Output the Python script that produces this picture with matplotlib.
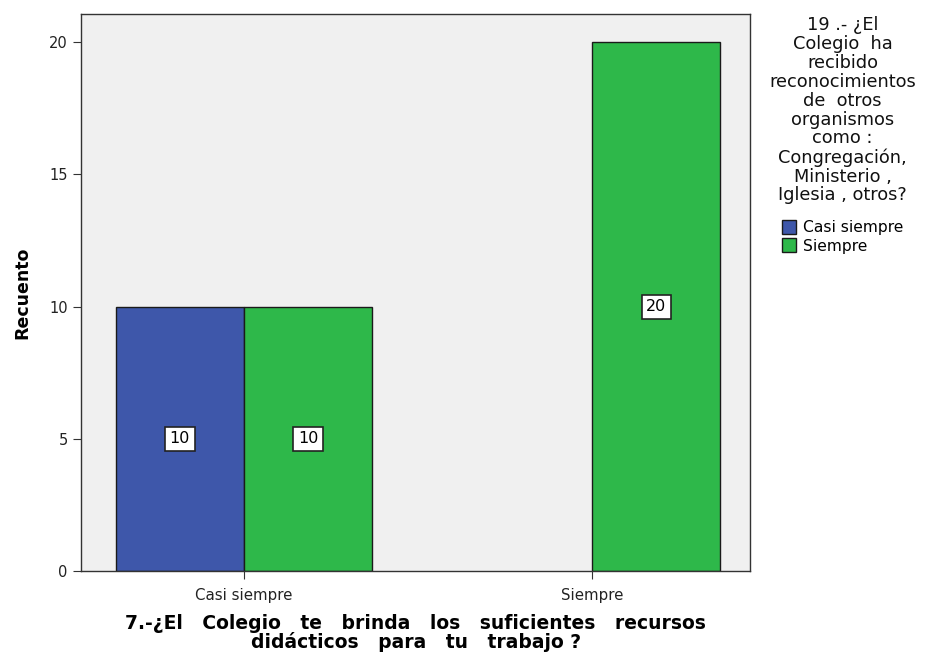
import numpy as np
import matplotlib.pyplot as plt
from matplotlib.patches import Patch

plt.rcParams['font.family'] = ['DejaVu Sans']

categorias = ['Casi siempre', 'Siempre']
serie_casi = [10, 0]
serie_siempre = [10, 20]
leyenda = ['Casi siempre', 'Siempre']
colores = ['#3E57AA', '#2EB84A']

titulo_leyenda = ('19 .- ¿El\nColegio  ha\nrecibido\nreconocimientos\nde  otros\n'
                  'organismos\ncomo :\nCongregación,\nMinisterio ,\nIglesia , otros?')
xlabel = ('7.-¿El   Colegio   te   brinda   los   suficientes   recursos\n'
          'didácticos   para   tu   trabajo ?')

fig = plt.figure(figsize=(9.25, 6.55), dpi=100)
ax = fig.add_axes([0.0876, 0.1282, 0.7234, 0.8504])
ax.set_facecolor('#F0F0F0')

x = np.arange(len(categorias))
w = 0.368
for vals, off, col in [(serie_casi, -w / 2, colores[0]), (serie_siempre, w / 2, colores[1])]:
    for xi, v in zip(x, vals):
        if v == 0:
            continue
        ax.bar(xi + off, v, width=w, color=col, edgecolor='#1a1a1a', linewidth=1.0, zorder=2)
        ax.text(xi + off, v / 2, str(v), ha='center', va='center', fontsize=11.5,
                bbox=dict(boxstyle='square,pad=0.28', fc='white', ec='#222222', lw=1.2), zorder=3)

ax.set_xlim(-0.468, 1.454)
ax.set_ylim(0, 21.06)
ax.set_yticks([0, 5, 10, 15, 20])
ax.set_xticks(x)
ax.set_xticklabels(categorias, fontsize=10.8, color='#222222')
ax.tick_params(axis='y', labelsize=10.5, labelcolor='#222222', length=6, color='#333333')
ax.tick_params(axis='x', length=6, color='#333333', pad=6)
for s in ax.spines.values():
    s.set_color('#333333')
    s.set_linewidth(1.0)

ax.set_ylabel('Recuento', fontsize=12.5, fontweight='bold', labelpad=13)
ax.set_xlabel(xlabel, fontsize=13.5, fontweight='bold', labelpad=8, linespacing=0.93)

fig.text(0.911, 0.975, titulo_leyenda, ha='center', va='top', fontsize=12.8,
         linespacing=1.06, color='#111111')
handles = [Patch(facecolor=c, edgecolor='#1a1a1a', label=l) for c, l in zip(colores, leyenda)]
fig.legend(handles=handles, loc='upper left', bbox_to_anchor=(0.845, 0.664), frameon=False,
           fontsize=11.2, handlelength=0.9, handleheight=1.0, handletextpad=0.5,
           labelspacing=0.2, borderpad=0, borderaxespad=0)

fig.savefig('out.png', dpi=100)
